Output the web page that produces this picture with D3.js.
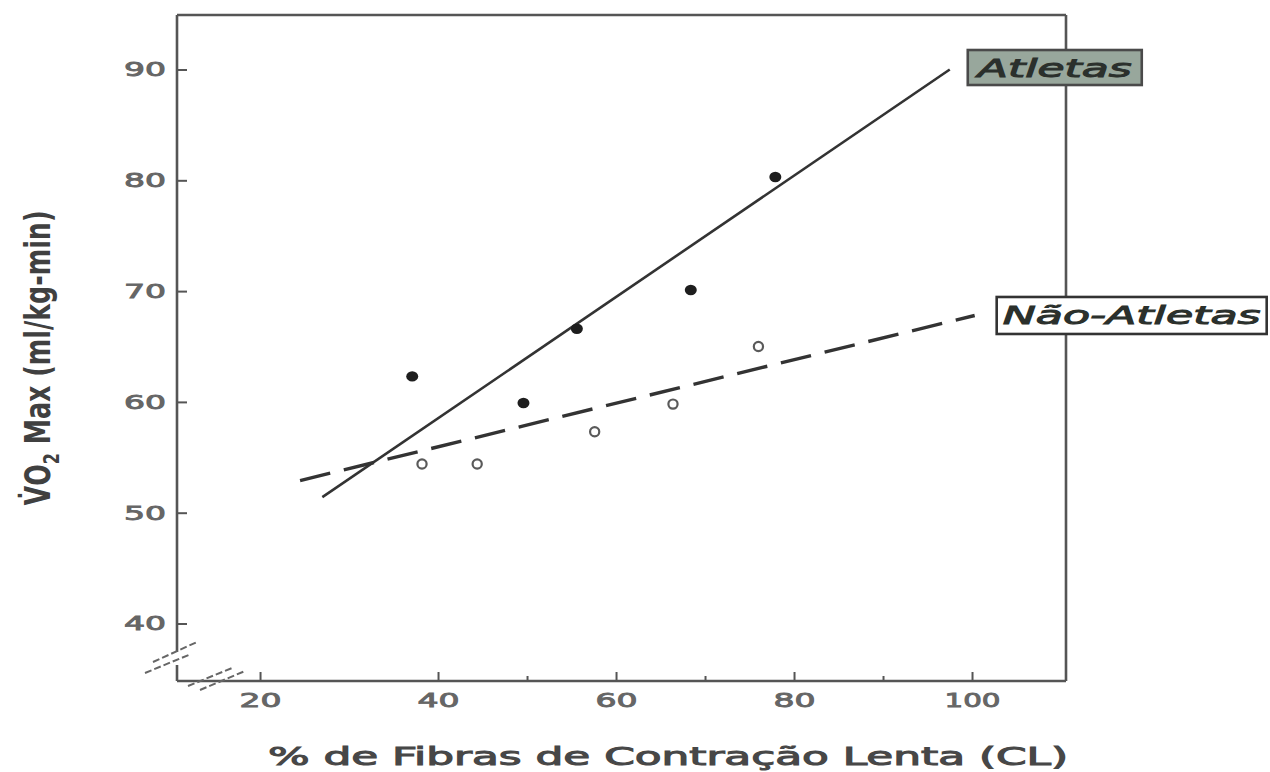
<!DOCTYPE html>
<html>
<head>
<meta charset="utf-8">
<script src="https://cdn.jsdelivr.net/npm/d3@7/dist/d3.min.js"></script>
<style>
  html, body { margin: 0; padding: 0; background: #fff; }
  svg { display: block; }
</style>
</head>
<body>
<svg id="chart" width="1270" height="772"></svg>
<script>
// VO2 max versus percentage of slow-twitch (CL) fibres, athletes vs non-athletes

const yTicks = [40, 50, 60, 70, 80, 90];
const xTicks = [20, 40, 60, 80, 100];
const xMinorTicks = [50, 70, 90];

const seriesNames = ["Atletas", "Não-Atletas"];

// Athletes (filled dots)
const atletasX = [37.1, 49.6, 55.6, 68.4, 77.9];
const atletasY = [62.3, 59.9, 66.6, 70.1, 80.3];

// Non-athletes (open circles)
const naoAtletasX = [38.2, 44.4, 57.6, 66.4, 76.0];
const naoAtletasY = [54.4, 54.4, 57.3, 59.8, 65.0];

// Regression lines (end points)
const atletasFitX = [27.0, 97.5];
const atletasFitY = [51.4, 90.0];
const naoAtletasFitX = [24.5, 100.3];
const naoAtletasFitY = [52.9, 67.8];

const xLabel = "% de Fibras de Contração Lenta (CL)";

const svg = d3.select("#chart");

const plotLeft = 177, plotRight = 1066, plotTop = 15, plotBottom = 681;
const x = d3.scaleLinear().domain([10.67, 110.56]).range([plotLeft, plotRight]);
const y = d3.scaleLinear().domain([34.81, 94.92]).range([plotBottom, plotTop]);

const ink = "#333";
const axisInk = "#555";
const tickTextInk = "#666";

// Frame, with a break in the left axis near the origin
const frame = svg.append("g").attr("stroke", axisInk).attr("stroke-width", 2.6).attr("fill", "none");
frame.append("line").attr("x1", plotLeft).attr("x2", plotRight).attr("y1", plotTop).attr("y2", plotTop);
frame.append("line").attr("x1", plotRight).attr("x2", plotRight).attr("y1", plotTop).attr("y2", plotBottom);
frame.append("line").attr("x1", plotLeft).attr("x2", plotRight).attr("y1", plotBottom).attr("y2", plotBottom);
frame.append("line").attr("x1", plotLeft).attr("x2", plotLeft).attr("y1", plotTop).attr("y2", 652);
frame.append("line").attr("x1", plotLeft).attr("x2", plotLeft).attr("y1", 665).attr("y2", plotBottom);

// Axis break marks
const brk = svg.append("g").attr("stroke", "#666").attr("stroke-width", 2)
  .attr("stroke-dasharray", "7,3").attr("fill", "none");
[[153, 662, 197, 642], [145, 673, 191, 654], [188, 686, 232, 668], [200, 690, 245, 671]]
  .forEach(([a, b, c, d]) => brk.append("line").attr("x1", a).attr("y1", b).attr("x2", c).attr("y2", d));

// Medium-weight text: regular glyphs thickened with a thin outline
function medium(sel, color, w) {
  return sel.attr("fill", color).attr("stroke", color).attr("stroke-width", w)
    .attr("paint-order", "stroke");
}

// Y axis (ticks pointing inward)
const yAxis = svg.append("g").attr("transform", `translate(${plotLeft},0)`)
  .call(d3.axisLeft(y).tickValues(yTicks).tickSize(-10).tickPadding(11).tickFormat(d3.format("d")));
yAxis.select(".domain").remove();
yAxis.selectAll(".tick line").attr("stroke", axisInk).attr("stroke-width", 2);
medium(yAxis.selectAll(".tick text"), tickTextInk, 0.9)
  .attr("font-family", "DejaVu Sans, sans-serif")
  .attr("font-size", 20)
  .attr("textLength", 42)
  .attr("lengthAdjust", "spacingAndGlyphs");

// X axis (ticks pointing inward)
const xAxis = svg.append("g").attr("transform", `translate(0,${plotBottom})`)
  .call(d3.axisBottom(x).tickValues(xTicks).tickSize(-9).tickPadding(12).tickFormat(d3.format("d")));
xAxis.select(".domain").remove();
xAxis.selectAll(".tick line").attr("stroke", axisInk).attr("stroke-width", 2);
medium(xAxis.selectAll(".tick text"), tickTextInk, 0.9)
  .attr("font-family", "DejaVu Sans, sans-serif")
  .attr("font-size", 20)
  .attr("textLength", d => String(d).length === 3 ? 56 : 42)
  .attr("lengthAdjust", "spacingAndGlyphs");

const xMinor = svg.append("g").attr("transform", `translate(0,${plotBottom})`)
  .call(d3.axisBottom(x).tickValues(xMinorTicks).tickSize(-5).tickFormat(""));
xMinor.select(".domain").remove();
xMinor.selectAll(".tick line").attr("stroke", axisInk).attr("stroke-width", 2);

// Regression lines
const line = d3.line().x(d => x(d[0])).y(d => y(d[1]));
svg.append("path")
  .datum(d3.zip(atletasFitX, atletasFitY))
  .attr("d", line).attr("fill", "none")
  .attr("stroke", ink).attr("stroke-width", 2.6);
svg.append("path")
  .datum(d3.zip(naoAtletasFitX, naoAtletasFitY))
  .attr("d", line).attr("fill", "none")
  .attr("stroke", ink).attr("stroke-width", 3.4)
  .attr("stroke-dasharray", "31,14");

// Points
svg.append("g").selectAll("ellipse")
  .data(d3.zip(atletasX, atletasY)).join("ellipse")
  .attr("cx", d => x(d[0])).attr("cy", d => y(d[1])).attr("rx", 6).attr("ry", 5.2)
  .attr("fill", "#1e1e1e");
svg.append("g").selectAll("circle")
  .data(d3.zip(naoAtletasX, naoAtletasY)).join("circle")
  .attr("cx", d => x(d[0])).attr("cy", d => y(d[1])).attr("r", 4.6)
  .attr("fill", "#fff").attr("stroke", "#5a5a5a").attr("stroke-width", 2.2);

// Series labels at the end of each line
function seriesLabel(name, x0, yc, w, h, fill, stroke, textW) {
  const g = svg.append("g");
  g.append("rect").attr("x", x0).attr("y", yc - h / 2).attr("width", w).attr("height", h)
    .attr("fill", fill).attr("stroke", stroke).attr("stroke-width", 2.6);
  medium(g.append("text"), "#2b302c", 1)
    .attr("x", x0 + w / 2).attr("y", yc + 9)
    .attr("text-anchor", "middle")
    .attr("font-family", "DejaVu Sans, sans-serif")
    .attr("font-style", "italic")
    .attr("font-size", 25)
    .attr("textLength", textW).attr("lengthAdjust", "spacingAndGlyphs")
    .text(name);
}
seriesLabel(seriesNames[0], x(atletasFitX[1]) + 18, y(atletasFitY[1]) - 2, 174, 35, "#98a79c", "#4a4a4a", 154);
seriesLabel(seriesNames[1], x(naoAtletasFitX[1]) + 22, y(naoAtletasFitY[1]), 270, 37, "#fff", "#333", 258);

// Axis titles
medium(svg.append("text"), "#474747", 1)
  .attr("x", 268).attr("y", 765)
  .attr("font-family", "DejaVu Sans, sans-serif")
  .attr("font-size", 24)
  .attr("textLength", 800).attr("lengthAdjust", "spacingAndGlyphs")
  .text(xLabel);

const yt = svg.append("text")
  .attr("transform", "translate(50,358) rotate(-90)")
  .attr("text-anchor", "middle")
  .attr("font-family", "Liberation Sans Narrow, DejaVu Sans Condensed, sans-serif")
  .attr("font-weight", "bold")
  .attr("font-size", 35)
  .attr("fill", "#404040")
  .attr("textLength", 295).attr("lengthAdjust", "spacingAndGlyphs");
yt.append("tspan").text("V\u0307O");
yt.append("tspan").attr("font-size", 22).attr("dy", 9).text("2");
yt.append("tspan").attr("dy", -9).text(" Max (ml/kg-min)");
</script>
</body>
</html>
